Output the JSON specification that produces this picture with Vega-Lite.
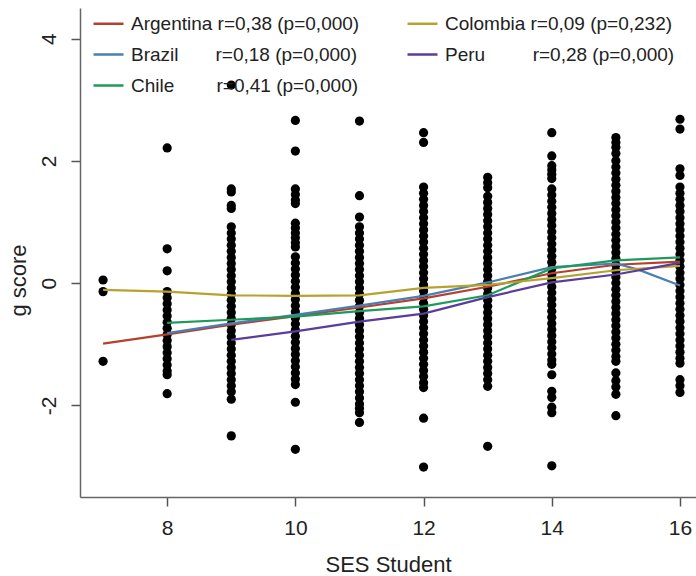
{
  "$schema": "https://vega.github.io/schema/vega-lite/v6.json",
  "width": 616,
  "height": 489,
  "autosize": {"type": "none"},
  "padding": {"left": 80, "top": 8, "right": 0, "bottom": 79},
  "background": "white",
  "config": {
    "view": {"stroke": null},
    "font": "Liberation Sans",
    "axis": {
      "grid": false,
      "domainColor": "#666666",
      "domainWidth": 1.5,
      "tickColor": "#555555",
      "tickWidth": 1.5,
      "tickSize": 9,
      "labelFont": "Liberation Sans",
      "labelFontSize": 21,
      "labelColor": "#222222",
      "titleFont": "Liberation Sans",
      "titleFontSize": 22,
      "titleFontWeight": "normal",
      "titleColor": "#222222"
    }
  },
  "datasets": {
    "pts": [
      {"s": 7, "g": 0.05}, {"s": 7, "g": -0.14}, {"s": 7, "g": -1.28},
      {"s": 8, "g": 2.21}, {"s": 8, "g": 0.56}, {"s": 8, "g": 0.2},
      {"s": 8, "g": -0.14}, {"s": 8, "g": -0.24}, {"s": 8, "g": -0.34}, {"s": 8, "g": -0.44}, {"s": 8, "g": -0.54}, {"s": 8, "g": -0.64}, {"s": 8, "g": -0.74}, {"s": 8, "g": -0.84}, {"s": 8, "g": -0.94}, {"s": 8, "g": -1.04}, {"s": 8, "g": -1.14}, {"s": 8, "g": -1.24}, {"s": 8, "g": -1.34}, {"s": 8, "g": -1.44}, {"s": 8, "g": -1.5}, {"s": 8, "g": -1.81},
      {"s": 9, "g": 3.24}, {"s": 9, "g": 1.54}, {"s": 9, "g": 1.49}, {"s": 9, "g": 1.27}, {"s": 9, "g": 1.22},
      {"s": 9, "g": 0.92}, {"s": 9, "g": 0.82}, {"s": 9, "g": 0.72}, {"s": 9, "g": 0.62}, {"s": 9, "g": 0.52}, {"s": 9, "g": 0.42}, {"s": 9, "g": 0.32}, {"s": 9, "g": 0.22}, {"s": 9, "g": 0.12}, {"s": 9, "g": 0.02}, {"s": 9, "g": -0.08}, {"s": 9, "g": -0.18}, {"s": 9, "g": -0.28}, {"s": 9, "g": -0.38}, {"s": 9, "g": -0.48}, {"s": 9, "g": -0.58}, {"s": 9, "g": -0.68}, {"s": 9, "g": -0.78}, {"s": 9, "g": -0.88}, {"s": 9, "g": -0.98}, {"s": 9, "g": -1.08}, {"s": 9, "g": -1.18}, {"s": 9, "g": -1.28}, {"s": 9, "g": -1.38}, {"s": 9, "g": -1.48}, {"s": 9, "g": -1.58}, {"s": 9, "g": -1.68}, {"s": 9, "g": -1.78}, {"s": 9, "g": -1.9}, {"s": 9, "g": -2.5},
      {"s": 10, "g": 2.66}, {"s": 10, "g": 2.16}, {"s": 10, "g": 1.54}, {"s": 10, "g": 1.45}, {"s": 10, "g": 1.36}, {"s": 10, "g": 1.3},
      {"s": 10, "g": 0.98}, {"s": 10, "g": 0.9}, {"s": 10, "g": 0.82}, {"s": 10, "g": 0.74}, {"s": 10, "g": 0.66}, {"s": 10, "g": 0.59},
      {"s": 10, "g": 0.43}, {"s": 10, "g": 0.33}, {"s": 10, "g": 0.23}, {"s": 10, "g": 0.13}, {"s": 10, "g": 0.03}, {"s": 10, "g": -0.07}, {"s": 10, "g": -0.17}, {"s": 10, "g": -0.27}, {"s": 10, "g": -0.37}, {"s": 10, "g": -0.47}, {"s": 10, "g": -0.57}, {"s": 10, "g": -0.67}, {"s": 10, "g": -0.77}, {"s": 10, "g": -0.87}, {"s": 10, "g": -0.97}, {"s": 10, "g": -1.07}, {"s": 10, "g": -1.17}, {"s": 10, "g": -1.27}, {"s": 10, "g": -1.37}, {"s": 10, "g": -1.47}, {"s": 10, "g": -1.57}, {"s": 10, "g": -1.66}, {"s": 10, "g": -1.95}, {"s": 10, "g": -2.72},
      {"s": 11, "g": 2.65}, {"s": 11, "g": 1.43}, {"s": 11, "g": 1.08},
      {"s": 11, "g": 0.92}, {"s": 11, "g": 0.82}, {"s": 11, "g": 0.72}, {"s": 11, "g": 0.62}, {"s": 11, "g": 0.52}, {"s": 11, "g": 0.42}, {"s": 11, "g": 0.32}, {"s": 11, "g": 0.22}, {"s": 11, "g": 0.12}, {"s": 11, "g": 0.02}, {"s": 11, "g": -0.08}, {"s": 11, "g": -0.18}, {"s": 11, "g": -0.28}, {"s": 11, "g": -0.38}, {"s": 11, "g": -0.48}, {"s": 11, "g": -0.58}, {"s": 11, "g": -0.68}, {"s": 11, "g": -0.78}, {"s": 11, "g": -0.88}, {"s": 11, "g": -0.98}, {"s": 11, "g": -1.08}, {"s": 11, "g": -1.18}, {"s": 11, "g": -1.28}, {"s": 11, "g": -1.38}, {"s": 11, "g": -1.48}, {"s": 11, "g": -1.58}, {"s": 11, "g": -1.68}, {"s": 11, "g": -1.78}, {"s": 11, "g": -1.88}, {"s": 11, "g": -1.98}, {"s": 11, "g": -2.05}, {"s": 11, "g": -2.12}, {"s": 11, "g": -2.28},
      {"s": 12, "g": 2.46}, {"s": 12, "g": 2.3},
      {"s": 12, "g": 1.57}, {"s": 12, "g": 1.47}, {"s": 12, "g": 1.37}, {"s": 12, "g": 1.27}, {"s": 12, "g": 1.17}, {"s": 12, "g": 1.07}, {"s": 12, "g": 0.97}, {"s": 12, "g": 0.87}, {"s": 12, "g": 0.77}, {"s": 12, "g": 0.67}, {"s": 12, "g": 0.57}, {"s": 12, "g": 0.47}, {"s": 12, "g": 0.37}, {"s": 12, "g": 0.27}, {"s": 12, "g": 0.17}, {"s": 12, "g": 0.07}, {"s": 12, "g": -0.03}, {"s": 12, "g": -0.13}, {"s": 12, "g": -0.23}, {"s": 12, "g": -0.33}, {"s": 12, "g": -0.43}, {"s": 12, "g": -0.53}, {"s": 12, "g": -0.63}, {"s": 12, "g": -0.73}, {"s": 12, "g": -0.83}, {"s": 12, "g": -0.93}, {"s": 12, "g": -1.03}, {"s": 12, "g": -1.13}, {"s": 12, "g": -1.23}, {"s": 12, "g": -1.33}, {"s": 12, "g": -1.43}, {"s": 12, "g": -1.53}, {"s": 12, "g": -1.63}, {"s": 12, "g": -1.71}, {"s": 12, "g": -2.21}, {"s": 12, "g": -3.01},
      {"s": 13, "g": 1.73}, {"s": 13, "g": 1.64}, {"s": 13, "g": 1.56}, {"s": 13, "g": 1.42}, {"s": 13, "g": 1.32}, {"s": 13, "g": 1.22}, {"s": 13, "g": 1.12}, {"s": 13, "g": 1.02}, {"s": 13, "g": 0.92}, {"s": 13, "g": 0.82}, {"s": 13, "g": 0.72}, {"s": 13, "g": 0.62}, {"s": 13, "g": 0.52}, {"s": 13, "g": 0.42}, {"s": 13, "g": 0.32}, {"s": 13, "g": 0.22}, {"s": 13, "g": 0.12}, {"s": 13, "g": 0.02}, {"s": 13, "g": -0.08}, {"s": 13, "g": -0.18}, {"s": 13, "g": -0.28}, {"s": 13, "g": -0.38}, {"s": 13, "g": -0.48}, {"s": 13, "g": -0.58}, {"s": 13, "g": -0.68}, {"s": 13, "g": -0.78}, {"s": 13, "g": -0.88}, {"s": 13, "g": -0.98}, {"s": 13, "g": -1.08}, {"s": 13, "g": -1.18}, {"s": 13, "g": -1.28}, {"s": 13, "g": -1.38}, {"s": 13, "g": -1.48}, {"s": 13, "g": -1.58}, {"s": 13, "g": -1.69}, {"s": 13, "g": -2.67},
      {"s": 14, "g": 2.46}, {"s": 14, "g": 2.08}, {"s": 14, "g": 1.92}, {"s": 14, "g": 1.85}, {"s": 14, "g": 1.78}, {"s": 14, "g": 1.71},
      {"s": 14, "g": 1.54}, {"s": 14, "g": 1.44}, {"s": 14, "g": 1.34}, {"s": 14, "g": 1.24}, {"s": 14, "g": 1.14}, {"s": 14, "g": 1.04}, {"s": 14, "g": 0.94}, {"s": 14, "g": 0.84}, {"s": 14, "g": 0.74}, {"s": 14, "g": 0.64}, {"s": 14, "g": 0.54}, {"s": 14, "g": 0.44}, {"s": 14, "g": 0.34}, {"s": 14, "g": 0.24}, {"s": 14, "g": 0.14}, {"s": 14, "g": 0.04}, {"s": 14, "g": -0.06}, {"s": 14, "g": -0.16}, {"s": 14, "g": -0.26}, {"s": 14, "g": -0.36}, {"s": 14, "g": -0.46}, {"s": 14, "g": -0.56}, {"s": 14, "g": -0.66}, {"s": 14, "g": -0.76}, {"s": 14, "g": -0.86}, {"s": 14, "g": -0.96}, {"s": 14, "g": -1.06}, {"s": 14, "g": -1.16}, {"s": 14, "g": -1.26}, {"s": 14, "g": -1.33},
      {"s": 14, "g": -1.5}, {"s": 14, "g": -1.77}, {"s": 14, "g": -1.87}, {"s": 14, "g": -2.03}, {"s": 14, "g": -2.12}, {"s": 14, "g": -2.99},
      {"s": 15, "g": 2.38}, {"s": 15, "g": 2.3}, {"s": 15, "g": 2.22}, {"s": 15, "g": 2.12},
      {"s": 15, "g": 2.0}, {"s": 15, "g": 1.9}, {"s": 15, "g": 1.8}, {"s": 15, "g": 1.7}, {"s": 15, "g": 1.6}, {"s": 15, "g": 1.5}, {"s": 15, "g": 1.4}, {"s": 15, "g": 1.3}, {"s": 15, "g": 1.2}, {"s": 15, "g": 1.1}, {"s": 15, "g": 1.0}, {"s": 15, "g": 0.9}, {"s": 15, "g": 0.8}, {"s": 15, "g": 0.7}, {"s": 15, "g": 0.6}, {"s": 15, "g": 0.5}, {"s": 15, "g": 0.4}, {"s": 15, "g": 0.3}, {"s": 15, "g": 0.2}, {"s": 15, "g": 0.1}, {"s": 15, "g": 0.0}, {"s": 15, "g": -0.1}, {"s": 15, "g": -0.2}, {"s": 15, "g": -0.3}, {"s": 15, "g": -0.4}, {"s": 15, "g": -0.5}, {"s": 15, "g": -0.6}, {"s": 15, "g": -0.7}, {"s": 15, "g": -0.8}, {"s": 15, "g": -0.9}, {"s": 15, "g": -1.0}, {"s": 15, "g": -1.1}, {"s": 15, "g": -1.2}, {"s": 15, "g": -1.28},
      {"s": 15, "g": -1.47}, {"s": 15, "g": -1.6}, {"s": 15, "g": -1.7}, {"s": 15, "g": -1.82}, {"s": 15, "g": -2.17},
      {"s": 16, "g": 2.68}, {"s": 16, "g": 2.52}, {"s": 16, "g": 1.87}, {"s": 16, "g": 1.76},
      {"s": 16, "g": 1.57}, {"s": 16, "g": 1.47}, {"s": 16, "g": 1.37}, {"s": 16, "g": 1.27}, {"s": 16, "g": 1.17}, {"s": 16, "g": 1.07}, {"s": 16, "g": 0.97}, {"s": 16, "g": 0.87}, {"s": 16, "g": 0.77}, {"s": 16, "g": 0.67}, {"s": 16, "g": 0.57}, {"s": 16, "g": 0.47}, {"s": 16, "g": 0.37}, {"s": 16, "g": 0.27}, {"s": 16, "g": 0.17}, {"s": 16, "g": 0.07}, {"s": 16, "g": -0.03}, {"s": 16, "g": -0.13}, {"s": 16, "g": -0.23}, {"s": 16, "g": -0.33}, {"s": 16, "g": -0.43}, {"s": 16, "g": -0.53}, {"s": 16, "g": -0.63}, {"s": 16, "g": -0.73}, {"s": 16, "g": -0.83}, {"s": 16, "g": -0.93}, {"s": 16, "g": -1.03}, {"s": 16, "g": -1.13}, {"s": 16, "g": -1.23}, {"s": 16, "g": -1.31},
      {"s": 16, "g": -1.58}, {"s": 16, "g": -1.68}, {"s": 16, "g": -1.79}
    ],
    "fits": [
      {"c": "Argentina", "s": 7, "g": -0.99}, {"c": "Argentina", "s": 8, "g": -0.84}, {"c": "Argentina", "s": 9, "g": -0.68}, {"c": "Argentina", "s": 10, "g": -0.54}, {"c": "Argentina", "s": 11, "g": -0.4}, {"c": "Argentina", "s": 12, "g": -0.25}, {"c": "Argentina", "s": 13, "g": -0.06}, {"c": "Argentina", "s": 14, "g": 0.16}, {"c": "Argentina", "s": 15, "g": 0.3}, {"c": "Argentina", "s": 16, "g": 0.35},
      {"c": "Brazil", "s": 8, "g": -0.82}, {"c": "Brazil", "s": 9, "g": -0.66}, {"c": "Brazil", "s": 10, "g": -0.52}, {"c": "Brazil", "s": 11, "g": -0.37}, {"c": "Brazil", "s": 12, "g": -0.21}, {"c": "Brazil", "s": 13, "g": 0.01}, {"c": "Brazil", "s": 14, "g": 0.26}, {"c": "Brazil", "s": 15, "g": 0.32}, {"c": "Brazil", "s": 15.35, "g": 0.22}, {"c": "Brazil", "s": 16, "g": -0.04},
      {"c": "Chile", "s": 8, "g": -0.65}, {"c": "Chile", "s": 9, "g": -0.6}, {"c": "Chile", "s": 10, "g": -0.55}, {"c": "Chile", "s": 11, "g": -0.46}, {"c": "Chile", "s": 12, "g": -0.38}, {"c": "Chile", "s": 13, "g": -0.2}, {"c": "Chile", "s": 14, "g": 0.24}, {"c": "Chile", "s": 15, "g": 0.37}, {"c": "Chile", "s": 16, "g": 0.42},
      {"c": "Colombia", "s": 7, "g": -0.11}, {"c": "Colombia", "s": 8, "g": -0.14}, {"c": "Colombia", "s": 9, "g": -0.2}, {"c": "Colombia", "s": 10, "g": -0.21}, {"c": "Colombia", "s": 11, "g": -0.2}, {"c": "Colombia", "s": 12, "g": -0.08}, {"c": "Colombia", "s": 13, "g": -0.03}, {"c": "Colombia", "s": 14, "g": 0.08}, {"c": "Colombia", "s": 15, "g": 0.21}, {"c": "Colombia", "s": 16, "g": 0.28},
      {"c": "Peru", "s": 9, "g": -0.93}, {"c": "Peru", "s": 10, "g": -0.79}, {"c": "Peru", "s": 11, "g": -0.63}, {"c": "Peru", "s": 12, "g": -0.5}, {"c": "Peru", "s": 13, "g": -0.23}, {"c": "Peru", "s": 14, "g": 0.01}, {"c": "Peru", "s": 15, "g": 0.14}, {"c": "Peru", "s": 16, "g": 0.33}
    ]
  },
  "layer": [
    {
      "data": {"name": "pts"},
      "mark": {"type": "point", "filled": true, "color": "#000000", "opacity": 1, "size": 85},
      "encoding": {
        "x": {
          "field": "s", "type": "quantitative",
          "scale": {"domain": [6.64, 16.25], "nice": false, "zero": false},
          "axis": {"values": [8, 10, 12, 14, 16], "format": "d", "title": "SES Student", "labelPadding": 11, "titlePadding": 16, "labelFlush": false}
        },
        "y": {
          "field": "g", "type": "quantitative",
          "scale": {"domain": [-3.5, 4.5], "nice": false, "zero": false},
          "axis": {"values": [-2, 0, 2, 4], "labelExpr": "'' + datum.value", "title": "g score\u00a0\u00a0\u00a0\u00a0\u00a0\u00a0\u00a0\u00a0\u00a0\u200b", "labelAngle": 270, "labelAlign": "center", "labelBaseline": "bottom", "labelPadding": 12, "titlePadding": 8, "labelFlush": false}
        }
      }
    },
    {
      "data": {"name": "fits"},
      "mark": {"type": "line", "strokeWidth": 2.2, "interpolate": "linear"},
      "encoding": {
        "x": {"field": "s", "type": "quantitative"},
        "y": {"field": "g", "type": "quantitative"},
        "color": {
          "field": "c", "type": "nominal",
          "scale": {
            "domain": ["Argentina", "Brazil", "Chile", "Colombia", "Peru"],
            "range": ["#b5402f", "#4a7fb0", "#1e9a5b", "#b8a22e", "#5a3d9a"]
          },
          "legend": {
            "title": null,
            "orient": "none",
            "legendX": 12,
            "legendY": -1,
            "columns": 2,
            "columnPadding": 42,
            "rowPadding": 4,
            "symbolType": "stroke",
            "symbolSize": 900,
            "symbolStrokeWidth": 2.5,
            "labelFont": "Liberation Sans",
            "labelFontSize": 19,
            "labelColor": "#222222",
            "labelOffset": 6,
            "labelLimit": 400,
            "labelExpr": "datum.label == 'Argentina' ? 'Argentina r=0,38 (p=0,000)' : datum.label == 'Brazil' ? 'Brazil\u00a0\u00a0\u00a0\u00a0\u00a0\u00a0\u00a0r=0,18 (p=0,000)' : datum.label == 'Chile' ? 'Chile\u00a0\u00a0\u00a0\u00a0\u00a0\u00a0\u00a0\u00a0r=0,41 (p=0,000)' : datum.label == 'Colombia' ? 'Colombia r=0,09 (p=0,232)' : 'Peru\u00a0\u00a0\u00a0\u00a0\u00a0\u00a0\u00a0\u00a0\u00a0r=0,28 (p=0,000)'"
          }
        }
      }
    },
    {
      "mark": {"type": "rule", "color": "#666666", "strokeWidth": 1.5},
      "encoding": {"y": {"datum": 4.5}}
    }
  ]
}
